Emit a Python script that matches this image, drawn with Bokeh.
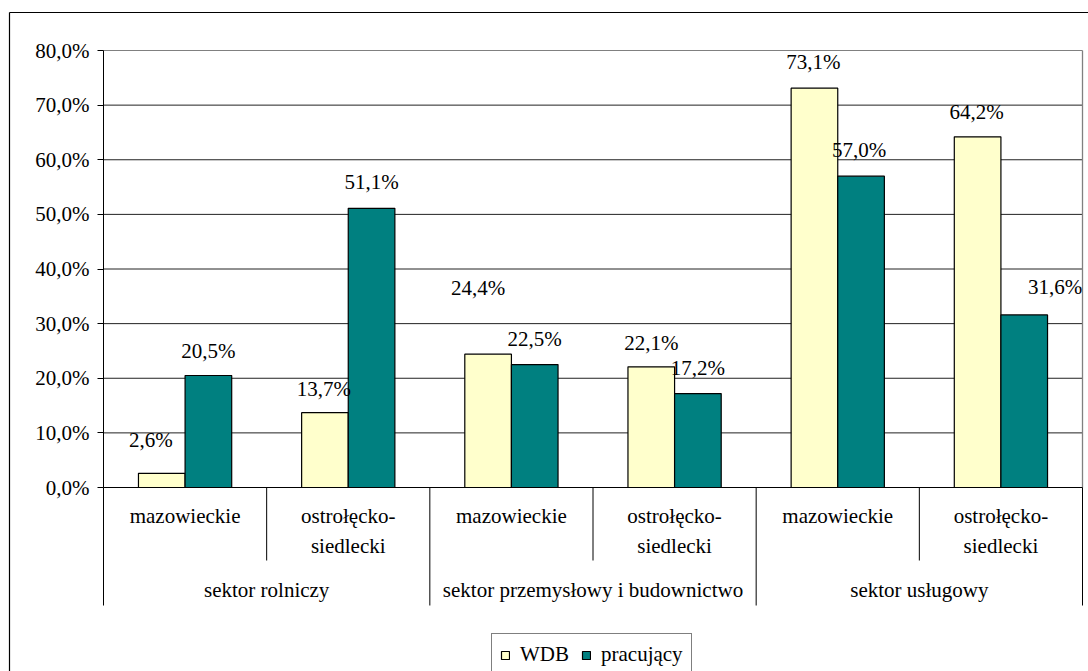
from bokeh.plotting import figure
from bokeh.models import Range1d, FixedTicker, ColumnDataSource
from bokeh.core.properties import value
from bokeh.embed import file_html
from bokeh.resources import INLINE

# ---------------- data ----------------
groups = ["sektor rolniczy", "sektor przemysłowy i budownictwo", "sektor usługowy"]
regions = ["mazowieckie", "ostrołęcko-\nsiedlecki"]
subcats = regions * len(groups)
series_names = ["WDB", "pracujący"]
wdb = [2.6, 13.7, 24.4, 22.1, 73.1, 64.2]
pracujacy = [20.5, 51.1, 22.5, 17.2, 57.0, 31.6]
y_ticks = [0, 10, 20, 30, 40, 50, 60, 70, 80]
y_tick_labels = ["0,0%", "10,0%", "20,0%", "30,0%", "40,0%", "50,0%", "60,0%", "70,0%", "80,0%"]

# ---------------- style / layout ----------------
colors = ["#FFFFCC", "#008080"]
FONT = "'Liberation Serif', 'Times New Roman', serif"
FS = "21px"
W, H = 1088, 671
PL, PR, PT, PB = 103, 1082, 50, 487      # plot area in canvas px
N = len(subcats)
YMAX = 80
XS = (PR - PL) / N
YS = (PB - PT) / YMAX
BAR_W = 1 / 3.5

# Excel-like data label offsets in px (dx, dy from bar top)
wdb_off = [(-11, -33), (-1, -24), (-10, -66), (0, -24), (-1, -26), (-1, -25)]
prac_off = [(0, -25), (0, -26), (0, -26), (0, -26), (-2, -26), (31, -28)]


def xd(px):
    return (px - PL) / XS


def yd(py):
    return (PB - py) / YS


def fmt(v):
    return f"{v:.1f}".replace(".", ",") + "%"


p = figure(width=W, height=H,
           x_range=Range1d(xd(0), xd(W)), y_range=Range1d(yd(H), yd(0)),
           output_backend="svg", toolbar_location=None, title=None,
           min_border_left=0, min_border_right=0, min_border_top=0, min_border_bottom=0)
p.background_fill_color = "white"
p.border_fill_color = "white"
p.outline_line_color = None
p.grid.visible = False

# y axis, fixed at the left edge of the plot area
p.yaxis.fixed_location = 0
p.yaxis.bounds = (0, YMAX)
p.yaxis.ticker = FixedTicker(ticks=y_ticks, minor_ticks=[])
p.yaxis.major_label_overrides = {t: l for t, l in zip(y_ticks, y_tick_labels)}
p.yaxis.major_label_text_font = FONT
p.yaxis.major_label_text_font_size = FS
p.yaxis.major_label_text_color = "black"
p.yaxis.major_tick_out = 6
p.yaxis.major_tick_in = 0
p.yaxis.major_label_standoff = 8
p.yaxis.axis_line_color = "black"
p.yaxis.major_tick_line_color = "black"

# x axis line at 0
p.xaxis.fixed_location = 0
p.xaxis.bounds = (0, N)
p.xaxis.ticker = FixedTicker(ticks=[], minor_ticks=[])
p.xaxis.axis_line_color = "black"
p.xaxis.major_tick_line_color = None
p.xaxis.minor_tick_line_color = None

# gridlines and plot-area border
grid_y = y_ticks[1:]
p.segment(x0=[0] * len(grid_y), x1=[N] * len(grid_y), y0=grid_y, y1=grid_y,
          line_color=["#222222"] * (len(grid_y) - 1) + ["#808080"], line_width=1)
p.segment(x0=[N], x1=[N], y0=[0], y1=[YMAX], line_color="#808080", line_width=1.3)

# bars
centers = [i + 0.5 for i in range(N)]
x_wdb = [c - BAR_W / 2 for c in centers]
x_prac = [c + BAR_W / 2 for c in centers]
p.vbar(x=x_wdb, top=wdb, width=BAR_W, fill_color=colors[0], line_color="black",
       line_width=1.2, legend_label=series_names[0])
p.vbar(x=x_prac, top=pracujacy, width=BAR_W, fill_color=colors[1], line_color="black",
       line_width=1.2, legend_label=series_names[1])

# data labels
lab = ColumnDataSource(dict(
    x=x_wdb + x_prac,
    y=wdb + pracujacy,
    text=[fmt(v) for v in wdb + pracujacy],
    dx=[o[0] for o in wdb_off + prac_off],
    dy=[o[1] for o in wdb_off + prac_off],
))
p.text(x="x", y="y", text="text", x_offset="dx", y_offset="dy", source=lab,
       text_font=value(FONT), text_font_size=FS, text_color="black",
       text_align="center", text_baseline="middle")

# category axis: two levels of labels and separators
p.text(x=centers, y=[yd(530.5) if "\n" in s else yd(515) for s in subcats], text=subcats,
       text_font=value(FONT), text_font_size=FS, text_color="black",
       text_align="center", text_baseline="middle", text_line_height=1.21)
p.text(x=[2 * g + 1 for g in range(len(groups))], y=[yd(589)] * len(groups), text=groups,
       text_font=value(FONT), text_font_size=FS, text_color="black",
       text_align="center", text_baseline="middle")
bounds_x = list(range(N + 1))
p.segment(x0=bounds_x, x1=bounds_x, y0=[0] * (N + 1),
          y1=[yd(605) if b % 2 == 0 else yd(560) for b in bounds_x],
          line_color="black", line_width=1)

# outer chart border (top and left visible in the crop)
p.segment(x0=[xd(9), xd(9)], y0=[yd(12), yd(12)], x1=[xd(9), xd(W + 2)], y1=[yd(H + 2), yd(12)],
          line_color="black", line_width=1.2)

# legend
lg = p.legend[0]
lg.orientation = "horizontal"
lg.location = (491, -5)
lg.margin = 0
lg.padding = 8
lg.spacing = 12
lg.label_standoff = 10
lg.glyph_width = 10
lg.glyph_height = 10
lg.label_text_font = FONT
lg.label_text_font_size = FS
lg.label_text_color = "black"
lg.border_line_color = "black"
lg.border_line_width = 1
lg.background_fill_color = "white"
lg.background_fill_alpha = 1

open("out.html", "w").write(file_html(p, INLINE))
